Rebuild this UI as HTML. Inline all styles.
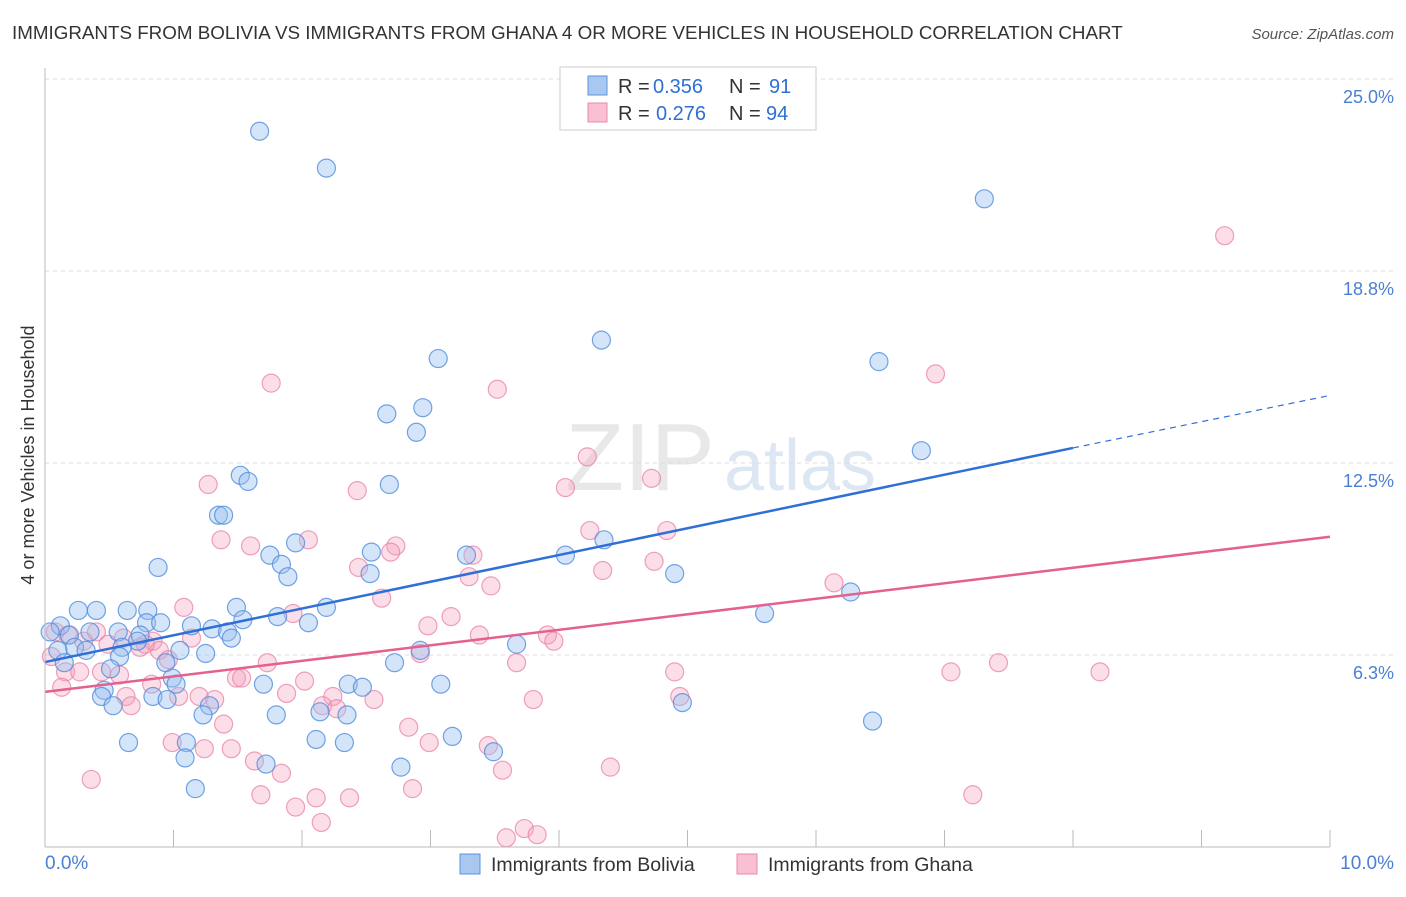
<!DOCTYPE html>
<html><head><meta charset="utf-8"><style>
body{margin:0;background:#fff;font-family:"Liberation Sans",sans-serif;}
svg text{font-family:"Liberation Sans",sans-serif;}
</style></head><body>
<svg id="chart" width="1406" height="892" xmlns="http://www.w3.org/2000/svg">
<text x="12" y="39" font-size="18.8" fill="#333">IMMIGRANTS FROM BOLIVIA VS IMMIGRANTS FROM GHANA 4 OR MORE VEHICLES IN HOUSEHOLD CORRELATION CHART</text>
<text x="1394" y="39" font-size="15" fill="#555" text-anchor="end" font-style="italic">Source: ZipAtlas.com</text>
<text x="640" y="490" font-size="96" fill="#e8e8e8" text-anchor="middle" font-family="Liberation Serif">ZIP</text>
<text x="800" y="490" font-size="72" fill="#dde7f4" text-anchor="middle">atlas</text>
<text transform="translate(34,455) rotate(-90)" font-size="18" fill="#333" text-anchor="middle">4 or more Vehicles in Household</text>
<g id="grid"></g><g id="pts"></g><g id="trend"></g>
<line x1="45" y1="68" x2="45" y2="847" stroke="#bbb"/>
<line x1="45" y1="847" x2="1330" y2="847" stroke="#bbb"/>
<text x="45" y="869" font-size="19" fill="#4a7fd4">0.0%</text>
<text x="1394" y="869" font-size="19" fill="#4a7fd4" text-anchor="end">10.0%</text>
<g>
<rect x="560" y="67" width="256" height="63" fill="#fff" stroke="#ccc"/>
<rect x="588" y="76" width="19" height="19" fill="#a8c8f0" stroke="#5b93e0"/>
<rect x="588" y="103" width="19" height="19" fill="#f8c0d2" stroke="#e88aab"/>
<text x="618" y="93" font-size="20" fill="#333">R =</text>
<text x="653" y="93" font-size="20" fill="#2f6fd6">0.356</text>
<text x="729" y="93" font-size="20" fill="#333">N =</text>
<text x="769" y="93" font-size="20" fill="#2f6fd6">91</text>
<text x="618" y="120" font-size="20" fill="#333">R =</text>
<text x="656" y="120" font-size="20" fill="#2f6fd6">0.276</text>
<text x="729" y="120" font-size="20" fill="#333">N =</text>
<text x="766" y="120" font-size="20" fill="#2f6fd6">94</text>
</g>
<g>
<rect x="460" y="854" width="20" height="20" fill="#a8c8f0" stroke="#5b93e0"/>
<text x="491" y="871" font-size="19.5" fill="#333">Immigrants from Bolivia</text>
<rect x="737" y="854" width="20" height="20" fill="#f8c0d2" stroke="#e88aab"/>
<text x="768" y="871" font-size="19.5" fill="#333">Immigrants from Ghana</text>
</g>
</svg>
<script>
const yTicks=[6.25,12.5,18.75,25];
const yTickLabels=["6.3%","12.5%","18.8%","25.0%"];
const xTicks=[0,1,2,3,4,5,6,7,8,9,10];
const boliviaX=[1.67,2.19,7.31,4.33,3.06,6.49,2.94,2.66,2.89,6.82,1.52,1.58,2.68,1.35,1.39,1.95,4.35,1.75,2.54,3.28,4.05,1.84,0.88,1.89,2.53,4.90,6.27,1.49,0.26,0.40,0.64,0.80,2.19,1.54,1.81,0.79,0.90,5.60,2.05,1.14,1.30,0.12,0.35,0.57,1.42,0.04,0.19,0.74,1.45,3.67,0.72,0.60,0.23,0.32,2.92,1.05,0.10,1.25,0.58,0.94,0.15,0.51,2.72,0.99,1.70,3.08,2.36,2.47,0.46,1.02,0.44,0.84,0.95,0.53,1.28,1.23,1.80,2.14,2.35,4.96,6.44,0.65,1.10,2.11,2.33,3.17,3.49,1.09,1.72,2.77,1.17];
const boliviaY=[23.3,22.1,21.1,16.5,15.9,15.8,14.3,14.1,13.5,12.9,12.1,11.9,11.8,10.8,10.8,9.9,10.0,9.5,9.6,9.5,9.5,9.2,9.1,8.8,8.9,8.9,8.3,7.8,7.7,7.7,7.7,7.7,7.8,7.4,7.5,7.3,7.3,7.6,7.3,7.2,7.1,7.2,7.0,7.0,7.0,7.0,6.9,6.9,6.8,6.6,6.7,6.5,6.5,6.4,6.4,6.4,6.4,6.3,6.2,6.0,6.0,5.8,6.0,5.5,5.3,5.3,5.3,5.2,5.1,5.3,4.9,4.9,4.8,4.6,4.6,4.3,4.3,4.4,4.3,4.7,4.1,3.4,3.4,3.5,3.4,3.6,3.1,2.9,2.7,2.6,1.9];
const ghanaX=[9.18,1.76,6.93,3.52,4.22,4.72,1.27,2.43,4.05,4.24,4.84,1.37,1.60,2.05,2.73,2.69,3.33,4.74,2.44,3.30,4.34,3.47,6.14,2.62,1.08,1.93,3.16,2.98,0.08,0.18,0.40,0.61,1.14,3.38,3.91,3.96,0.84,0.30,0.49,0.74,0.89,0.78,2.92,0.96,1.73,3.67,7.42,0.16,0.27,0.44,0.58,4.90,7.05,8.21,1.49,1.53,2.02,0.83,0.13,1.88,0.63,1.20,1.32,1.04,2.24,2.56,3.80,4.94,0.67,2.16,2.27,1.39,2.83,0.99,2.99,1.24,1.45,3.45,1.63,3.56,4.40,1.84,0.36,2.86,1.68,2.11,2.37,7.22,1.95,2.15,3.73,3.83,3.59,0.05];
const ghanaY=[19.9,15.1,15.4,14.9,12.7,12.0,11.8,11.6,11.7,10.3,10.3,10.0,9.8,10.0,9.8,9.6,9.5,9.3,9.1,8.8,9.0,8.5,8.6,8.1,7.8,7.6,7.5,7.2,7.0,6.9,7.0,6.8,6.8,6.9,6.9,6.7,6.7,6.7,6.6,6.5,6.4,6.6,6.3,6.1,6.0,6.0,6.0,5.7,5.7,5.7,5.6,5.7,5.7,5.7,5.5,5.5,5.4,5.3,5.2,5.0,4.9,4.9,4.8,4.9,4.9,4.8,4.8,4.9,4.6,4.6,4.5,4.0,3.9,3.4,3.4,3.2,3.2,3.3,2.8,2.5,2.6,2.4,2.2,1.9,1.7,1.6,1.6,1.7,1.3,0.8,0.6,0.4,0.3,6.2];
const blueTrendX=[0,8,10];
const blueTrendY=[6.02,12.99,14.7];
const pinkTrendX=[0,10];
const pinkTrendY=[5.05,10.1];
const NS='http://www.w3.org/2000/svg';
const sx=v=>45+v*128.5;
const sy=v=>847-v*30.72;
function mk(tag,attrs,parent){const e=document.createElementNS(NS,tag);for(const k in attrs)e.setAttribute(k,attrs[k]);parent.appendChild(e);return e;}
const grid=document.getElementById('grid');
yTicks.forEach((t,i)=>{
  const l=mk('line',{x1:45,x2:1394,y1:sy(t),y2:sy(t),stroke:'#ddd','stroke-dasharray':'4,4'},grid);
  
  
  const tx=mk('text',{x:1394,y:sy(t)+24,'font-size':18,fill:'#4a7fd4','text-anchor':'end'},grid);
  tx.textContent=yTickLabels[i];
  
  
});
xTicks.forEach(t=>{
  const l=mk('line',{x1:sx(t),x2:sx(t),y1:830,y2:847,stroke:'#bbb'},grid);
  
  
});
const pts=document.getElementById('pts');
ghanaX.forEach((x,i)=>{
  const c=mk('circle',{cx:sx(x),cy:sy(ghanaY[i]),r:9,fill:'rgba(244,160,188,0.35)',stroke:'rgba(232,130,165,0.75)','stroke-width':1.2},pts);
  
  
});
boliviaX.forEach((x,i)=>{
  const c=mk('circle',{cx:sx(x),cy:sy(boliviaY[i]),r:9,fill:'rgba(150,190,240,0.4)',stroke:'rgba(80,140,220,0.8)','stroke-width':1.2},pts);
  
  
});
const tr=document.getElementById('trend');
const b1=mk('line',{x1:sx(blueTrendX[0]),y1:sy(blueTrendY[0]),x2:sx(blueTrendX[1]),y2:sy(blueTrendY[1]),stroke:'#2f6fd6','stroke-width':2.5},tr);


const b2=mk('line',{x1:sx(blueTrendX[1]),y1:sy(blueTrendY[1]),x2:sx(blueTrendX[2]),y2:sy(blueTrendY[2]),stroke:'#2f6fd6','stroke-width':1.2,'stroke-dasharray':'6,5'},tr);


const p1=mk('line',{x1:sx(pinkTrendX[0]),y1:sy(pinkTrendY[0]),x2:sx(pinkTrendX[1]),y2:sy(pinkTrendY[1]),stroke:'#e4608e','stroke-width':2.5},tr);


</script>
</body></html>
